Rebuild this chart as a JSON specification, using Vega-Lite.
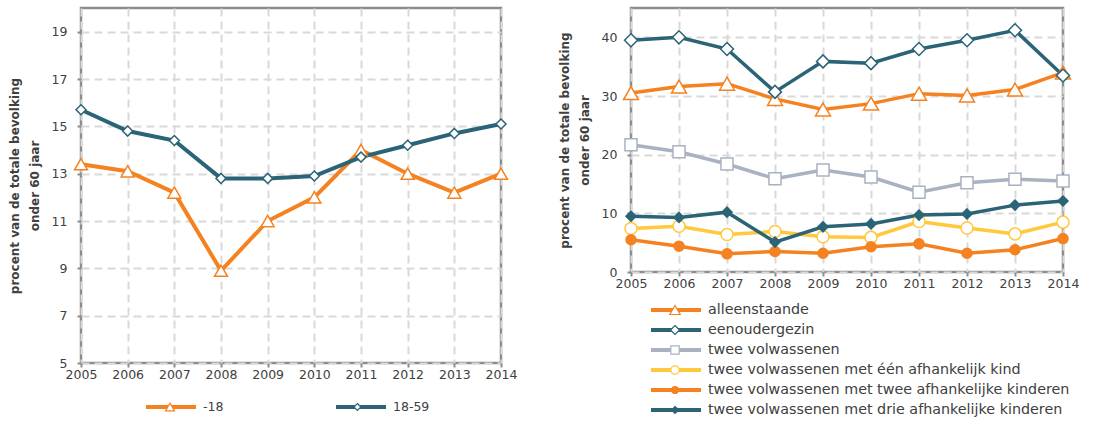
{
  "$schema": "https://vega.github.io/schema/vega-lite/v6.json",
  "padding": {"left": 6, "top": 6, "right": 4, "bottom": 0},
  "autosize": {"type": "pad"},
  "spacing": 37,
  "config": {
    "font": "DejaVu Sans",
    "view": {"stroke": "#8c8c8c", "strokeWidth": 2.5},
    "axis": {
      "labelFont": "DejaVu Sans", "labelFontSize": 12.5, "labelColor": "#404040",
      "titleFont": "DejaVu Sans", "titleFontSize": 12, "titleFontWeight": "bold", "titleColor": "#404040",
      "titleLineHeight": 20,
      "gridDash": [8, 5], "gridColor": "#d9d9d9", "gridWidth": 2,
      "domain": false, "tickColor": "#8c8c8c", "tickSize": 4, "tickWidth": 2,
      "labelFlush": false
    },
    "legend": {"labelFont": "DejaVu Sans", "labelFontSize": 12.5, "labelColor": "#404040"}
  },
  "datasets": {
    "links": [
      {"jaar": 2005, "groep": "-18", "waarde": 13.4},
      {"jaar": 2006, "groep": "-18", "waarde": 13.1},
      {"jaar": 2007, "groep": "-18", "waarde": 12.2},
      {"jaar": 2008, "groep": "-18", "waarde": 8.9},
      {"jaar": 2009, "groep": "-18", "waarde": 11.0},
      {"jaar": 2010, "groep": "-18", "waarde": 12.0},
      {"jaar": 2011, "groep": "-18", "waarde": 14.0},
      {"jaar": 2012, "groep": "-18", "waarde": 13.0},
      {"jaar": 2013, "groep": "-18", "waarde": 12.2},
      {"jaar": 2014, "groep": "-18", "waarde": 13.0},
      {"jaar": 2005, "groep": "18-59", "waarde": 15.7},
      {"jaar": 2006, "groep": "18-59", "waarde": 14.8},
      {"jaar": 2007, "groep": "18-59", "waarde": 14.4},
      {"jaar": 2008, "groep": "18-59", "waarde": 12.8},
      {"jaar": 2009, "groep": "18-59", "waarde": 12.8},
      {"jaar": 2010, "groep": "18-59", "waarde": 12.9},
      {"jaar": 2011, "groep": "18-59", "waarde": 13.7},
      {"jaar": 2012, "groep": "18-59", "waarde": 14.2},
      {"jaar": 2013, "groep": "18-59", "waarde": 14.7},
      {"jaar": 2014, "groep": "18-59", "waarde": 15.1}
    ],
    "rechts": [
      {"jaar": 2005, "huishouden": "alleenstaande", "waarde": 30.5},
      {"jaar": 2006, "huishouden": "alleenstaande", "waarde": 31.6},
      {"jaar": 2007, "huishouden": "alleenstaande", "waarde": 32.1},
      {"jaar": 2008, "huishouden": "alleenstaande", "waarde": 29.5},
      {"jaar": 2009, "huishouden": "alleenstaande", "waarde": 27.7},
      {"jaar": 2010, "huishouden": "alleenstaande", "waarde": 28.7},
      {"jaar": 2011, "huishouden": "alleenstaande", "waarde": 30.4},
      {"jaar": 2012, "huishouden": "alleenstaande", "waarde": 30.1},
      {"jaar": 2013, "huishouden": "alleenstaande", "waarde": 31.1},
      {"jaar": 2014, "huishouden": "alleenstaande", "waarde": 34.0},
      {"jaar": 2005, "huishouden": "eenoudergezin", "waarde": 39.5},
      {"jaar": 2006, "huishouden": "eenoudergezin", "waarde": 40.0},
      {"jaar": 2007, "huishouden": "eenoudergezin", "waarde": 38.0},
      {"jaar": 2008, "huishouden": "eenoudergezin", "waarde": 30.7},
      {"jaar": 2009, "huishouden": "eenoudergezin", "waarde": 35.9},
      {"jaar": 2010, "huishouden": "eenoudergezin", "waarde": 35.6},
      {"jaar": 2011, "huishouden": "eenoudergezin", "waarde": 38.0},
      {"jaar": 2012, "huishouden": "eenoudergezin", "waarde": 39.5},
      {"jaar": 2013, "huishouden": "eenoudergezin", "waarde": 41.2},
      {"jaar": 2014, "huishouden": "eenoudergezin", "waarde": 33.5},
      {"jaar": 2005, "huishouden": "twee volwassenen", "waarde": 21.7},
      {"jaar": 2006, "huishouden": "twee volwassenen", "waarde": 20.5},
      {"jaar": 2007, "huishouden": "twee volwassenen", "waarde": 18.4},
      {"jaar": 2008, "huishouden": "twee volwassenen", "waarde": 15.9},
      {"jaar": 2009, "huishouden": "twee volwassenen", "waarde": 17.4},
      {"jaar": 2010, "huishouden": "twee volwassenen", "waarde": 16.2},
      {"jaar": 2011, "huishouden": "twee volwassenen", "waarde": 13.6},
      {"jaar": 2012, "huishouden": "twee volwassenen", "waarde": 15.2},
      {"jaar": 2013, "huishouden": "twee volwassenen", "waarde": 15.8},
      {"jaar": 2014, "huishouden": "twee volwassenen", "waarde": 15.5},
      {"jaar": 2005, "huishouden": "twee volwassenen met één afhankelijk kind", "waarde": 7.4},
      {"jaar": 2006, "huishouden": "twee volwassenen met één afhankelijk kind", "waarde": 7.8},
      {"jaar": 2007, "huishouden": "twee volwassenen met één afhankelijk kind", "waarde": 6.4},
      {"jaar": 2008, "huishouden": "twee volwassenen met één afhankelijk kind", "waarde": 6.9},
      {"jaar": 2009, "huishouden": "twee volwassenen met één afhankelijk kind", "waarde": 6.0},
      {"jaar": 2010, "huishouden": "twee volwassenen met één afhankelijk kind", "waarde": 5.9},
      {"jaar": 2011, "huishouden": "twee volwassenen met één afhankelijk kind", "waarde": 8.6},
      {"jaar": 2012, "huishouden": "twee volwassenen met één afhankelijk kind", "waarde": 7.5},
      {"jaar": 2013, "huishouden": "twee volwassenen met één afhankelijk kind", "waarde": 6.5},
      {"jaar": 2014, "huishouden": "twee volwassenen met één afhankelijk kind", "waarde": 8.5},
      {"jaar": 2005, "huishouden": "twee volwassenen met twee afhankelijke kinderen", "waarde": 5.5},
      {"jaar": 2006, "huishouden": "twee volwassenen met twee afhankelijke kinderen", "waarde": 4.4},
      {"jaar": 2007, "huishouden": "twee volwassenen met twee afhankelijke kinderen", "waarde": 3.1},
      {"jaar": 2008, "huishouden": "twee volwassenen met twee afhankelijke kinderen", "waarde": 3.5},
      {"jaar": 2009, "huishouden": "twee volwassenen met twee afhankelijke kinderen", "waarde": 3.2},
      {"jaar": 2010, "huishouden": "twee volwassenen met twee afhankelijke kinderen", "waarde": 4.3},
      {"jaar": 2011, "huishouden": "twee volwassenen met twee afhankelijke kinderen", "waarde": 4.8},
      {"jaar": 2012, "huishouden": "twee volwassenen met twee afhankelijke kinderen", "waarde": 3.2},
      {"jaar": 2013, "huishouden": "twee volwassenen met twee afhankelijke kinderen", "waarde": 3.8},
      {"jaar": 2014, "huishouden": "twee volwassenen met twee afhankelijke kinderen", "waarde": 5.7},
      {"jaar": 2005, "huishouden": "twee volwassenen met drie afhankelijke kinderen", "waarde": 9.5},
      {"jaar": 2006, "huishouden": "twee volwassenen met drie afhankelijke kinderen", "waarde": 9.3},
      {"jaar": 2007, "huishouden": "twee volwassenen met drie afhankelijke kinderen", "waarde": 10.2},
      {"jaar": 2008, "huishouden": "twee volwassenen met drie afhankelijke kinderen", "waarde": 5.1},
      {"jaar": 2009, "huishouden": "twee volwassenen met drie afhankelijke kinderen", "waarde": 7.7},
      {"jaar": 2010, "huishouden": "twee volwassenen met drie afhankelijke kinderen", "waarde": 8.2},
      {"jaar": 2011, "huishouden": "twee volwassenen met drie afhankelijke kinderen", "waarde": 9.7},
      {"jaar": 2012, "huishouden": "twee volwassenen met drie afhankelijke kinderen", "waarde": 9.9},
      {"jaar": 2013, "huishouden": "twee volwassenen met drie afhankelijke kinderen", "waarde": 11.4},
      {"jaar": 2014, "huishouden": "twee volwassenen met drie afhankelijke kinderen", "waarde": 12.1}
    ]
  },
  "resolve": {
    "scale": {"color": "independent", "shape": "independent", "fill": "independent"},
    "legend": {"color": "independent", "shape": "independent", "fill": "independent"}
  },
  "hconcat": [
    {
      "width": 420,
      "height": 355,
      "data": {"name": "links"},
      "encoding": {
        "x": {"field": "jaar", "type": "quantitative",
          "scale": {"domain": [2005, 2014], "nice": false, "zero": false},
          "axis": {"values": [2005, 2006, 2007, 2008, 2009, 2010, 2011, 2012, 2013, 2014], "format": "d", "title": null, "labelPadding": 1}},
        "y": {"field": "waarde", "type": "quantitative",
          "scale": {"domain": [5, 20], "nice": false, "zero": false},
          "axis": {"values": [5, 7, 9, 11, 13, 15, 17, 19], "title": ["procent van de totale bevolking", "onder 60 jaar"], "titlePadding": 10, "labelPadding": 10}}
      },
      "layer": [
        {
          "mark": {"type": "line", "strokeWidth": 4},
          "encoding": {
            "color": {"field": "groep", "type": "nominal",
              "scale": {"domain": ["-18", "18-59"], "range": ["#F58220", "#2B6377"]},
              "legend": {"title": null, "orient": "none", "legendX": 63, "legendY": 391, "direction": "horizontal",
                "symbolType": "stroke", "symbolSize": 2500, "symbolStrokeWidth": 4, "clipHeight": 16,
                "columnPadding": 110, "labelOffset": 5}}
          }
        },
        {
          "mark": {"type": "point", "filled": false, "opacity": 1, "strokeWidth": 1.5, "size": 5200},
          "encoding": {
            "color": {"field": "groep", "type": "nominal"},
            "fill": {"value": "white"},
            "shape": {"field": "groep", "type": "nominal", "sort": ["-18", "18-59"],
              "scale": {"range": ["M0,-0.156L0.18,0.156L-0.18,0.156Z", "M0,-0.139L0.139,0L0,0.139L-0.139,0Z"]},
              "legend": {"title": null, "orient": "none", "legendX": 63, "legendY": 391, "direction": "horizontal",
                "symbolSize": 2500, "symbolStrokeWidth": 1.2, "clipHeight": 16, "zindex": 2,
                "columnPadding": 130.4, "labelOffset": 5, "labelExpr": "''",
                "encoding": {"symbols": {
                  "fill": {"value": "white"},
                  "stroke": {"condition": {"test": "datum.value === '-18'", "value": "#F58220"}, "value": "#2B6377"},
                  "opacity": {"value": 1}}}}}
          }
        }
      ]
    },
    {
      "width": 432,
      "height": 264,
      "data": {"name": "rechts"},
      "encoding": {
        "x": {"field": "jaar", "type": "quantitative",
          "scale": {"domain": [2005, 2014], "nice": false, "zero": false},
          "axis": {"values": [2005, 2006, 2007, 2008, 2009, 2010, 2011, 2012, 2013, 2014], "format": "d", "title": null, "labelPadding": 1}},
        "y": {"field": "waarde", "type": "quantitative",
          "scale": {"domain": [0, 45], "nice": false},
          "axis": {"values": [0, 10, 20, 30, 40], "title": ["procent van de totale bevolking", "onder 60 jaar"], "titlePadding": 10, "labelPadding": 10}}
      },
      "layer": [
        {
          "mark": {"type": "line", "strokeWidth": 3.5},
          "encoding": {
            "color": {"field": "huishouden", "type": "nominal",
              "scale": {"domain": ["alleenstaande", "eenoudergezin", "twee volwassenen", "twee volwassenen met één afhankelijk kind", "twee volwassenen met twee afhankelijke kinderen", "twee volwassenen met drie afhankelijke kinderen"],
                "range": ["#F58220", "#2B6377", "#A8B2C1", "#FFC83D", "#F58220", "#2B6377"]},
              "legend": {"title": null, "orient": "none", "legendX": 18, "legendY": 294, "direction": "vertical",
                "symbolType": "stroke", "symbolSize": 2500, "symbolStrokeWidth": 4, "clipHeight": 16,
                "rowPadding": 4, "labelOffset": 5, "labelLimit": 500, "labelFontSize": 14.3}}
          }
        },
        {
          "mark": {"type": "point", "filled": false, "opacity": 1, "strokeWidth": 1.5, "size": 5200},
          "encoding": {
            "color": {"field": "huishouden", "type": "nominal"},
            "fill": {"field": "huishouden", "type": "nominal",
              "scale": {"domain": ["alleenstaande", "eenoudergezin", "twee volwassenen", "twee volwassenen met één afhankelijk kind", "twee volwassenen met twee afhankelijke kinderen", "twee volwassenen met drie afhankelijke kinderen"],
                "range": ["white", "white", "white", "white", "#F58220", "#2B6377"]},
              "legend": null},
            "shape": {"field": "huishouden", "type": "nominal",
              "sort": ["alleenstaande", "eenoudergezin", "twee volwassenen", "twee volwassenen met één afhankelijk kind", "twee volwassenen met twee afhankelijke kinderen", "twee volwassenen met drie afhankelijke kinderen"],
              "scale": {"range": [
                "M0,-0.18L0.208,0.18L-0.208,0.18Z",
                "M0,-0.18L0.18,0L0,0.18L-0.18,0Z",
                "M-0.167,-0.167H0.167V0.167H-0.167Z",
                "M-0.167,0A0.167,0.167,0,1,1,0.167,0A0.167,0.167,0,1,1,-0.167,0Z",
                "M-0.139,0A0.139,0.139,0,1,1,0.139,0A0.139,0.139,0,1,1,-0.139,0Z",
                "M0,-0.139L0.139,0L0,0.139L-0.139,0Z"]},
              "legend": {"title": null, "orient": "none", "legendX": 18, "legendY": 294, "direction": "vertical",
                "symbolSize": 2500, "symbolStrokeWidth": 1.2, "clipHeight": 16, "zindex": 2,
                "rowPadding": 4, "labelOffset": 5, "labelExpr": "''",
                "encoding": {"symbols": {
                  "fill": {"condition": [
                    {"test": "datum.value === 'twee volwassenen met twee afhankelijke kinderen'", "value": "#F58220"},
                    {"test": "datum.value === 'twee volwassenen met drie afhankelijke kinderen'", "value": "#2B6377"}], "value": "white"},
                  "stroke": {"condition": [
                    {"test": "datum.value === 'alleenstaande' || datum.value === 'twee volwassenen met twee afhankelijke kinderen'", "value": "#F58220"},
                    {"test": "datum.value === 'twee volwassenen'", "value": "#A8B2C1"},
                    {"test": "datum.value === 'twee volwassenen met één afhankelijk kind'", "value": "#FFC83D"}], "value": "#2B6377"},
                  "opacity": {"value": 1}}}}}
          }
        }
      ]
    }
  ]
}
